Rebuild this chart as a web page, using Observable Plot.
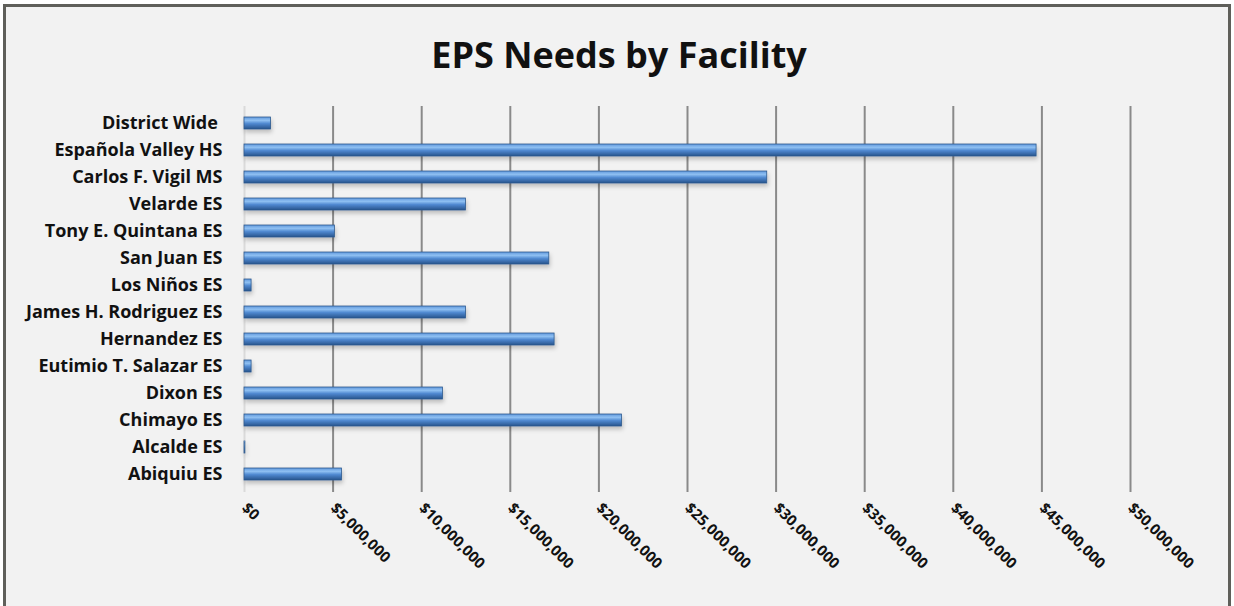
<!DOCTYPE html>
<html>
<head>
<meta charset="utf-8">
<script src="https://cdn.jsdelivr.net/npm/d3@7"></script>
<script src="https://cdn.jsdelivr.net/npm/@observablehq/plot@0.6"></script>
<style>
  html, body { margin: 0; padding: 0; background: #ffffff; }
  #frame {
    position: absolute; left: 3px; top: 4px; width: 1222px; height: 602px;
    border: 3px solid #5f5f5a; border-bottom: none; background: #f2f2f2;
  }
  #title {
    position: absolute; left: 0; top: 30px; width: 1234px; text-align: center;
    font-family: "Open Sans", Lato, sans-serif; font-weight: bold; font-size: 36px; color: #111;
    padding-left: 2px;
  }
  #chart { position: absolute; left: 0; top: 90px; }
</style>
</head>
<body>
<div id="frame"></div>
<div id="title">EPS Needs by Facility</div>
<div id="chart"></div>
<script>
const facilities = [
  "District Wide\u00a0", "Española Valley HS", "Carlos F. Vigil MS", "Velarde ES",
  "Tony E. Quintana ES", "San Juan ES", "Los Niños ES", "James H. Rodriguez ES",
  "Hernandez ES", "Eutimio T. Salazar ES", "Dixon ES", "Chimayo ES", "Alcalde ES", "Abiquiu ES"
];
const needs = [
  1500000, 44700000, 29500000, 12500000,
  5100000, 17200000, 400000, 12500000,
  17500000, 400000, 11200000, 21300000, 50000, 5500000
];
const xTicks = [0, 5000000, 10000000, 15000000, 20000000, 25000000, 30000000, 35000000, 40000000, 45000000, 50000000];

const data = facilities.map((f, i) => ({facility: f, value: needs[i]}));
const money = d => "$" + d3.format(",")(d);

const chart = Plot.plot({
  width: 1234,
  height: 516,
  marginTop: 16,
  marginBottom: 114,
  marginLeft: 244,
  marginRight: 104,
  style: {background: "transparent", fontFamily: "'Open Sans', Lato, sans-serif"},
  x: {domain: [0, 50000000], ticks: xTicks, tickFormat: money, label: null},
  y: {domain: facilities, paddingInner: 0.55, paddingOuter: 0.275, label: null},
  marks: [
    Plot.ruleX(xTicks.slice(1), {stroke: "#8a8a8a", strokeWidth: 2}),
    Plot.ruleX([0], {stroke: "#dadada", strokeWidth: 2}),
    Plot.barX(data, {x: "value", y: "facility", fill: "url(#barGrad)", stroke: "#2d5a8e", strokeWidth: 0.8}),
    Plot.axisY({tickSize: 0, tickPadding: 22, fontSize: 18, fontWeight: "bold", fill: "#111"}),
    Plot.axisX({ticks: xTicks, tickFormat: money, tickSize: 0, tickPadding: 13, tickRotate: 45, fontSize: 15, fontWeight: "bold", fill: "#111"})
  ]
});

const svgNS = "http://www.w3.org/2000/svg";
const defs = document.createElementNS(svgNS, "defs");
defs.innerHTML = `
  <linearGradient id="barGrad" x1="0" y1="0" x2="0" y2="1">
    <stop offset="0" stop-color="#5f97dc"/>
    <stop offset="0.28" stop-color="#8fc0f2"/>
    <stop offset="0.55" stop-color="#4f88d0"/>
    <stop offset="1" stop-color="#28548c"/>
  </linearGradient>
  <filter id="shadow" x="-5%" y="-50%" width="110%" height="250%">
    <feDropShadow dx="1" dy="3" stdDeviation="2" flood-color="#000" flood-opacity="0.22"/>
  </filter>`;
chart.insertBefore(defs, chart.firstChild);
d3.select(chart).selectAll("g[aria-label='bar']").attr("filter", "url(#shadow)");
document.getElementById("chart").appendChild(chart);
</script>
</body>
</html>
